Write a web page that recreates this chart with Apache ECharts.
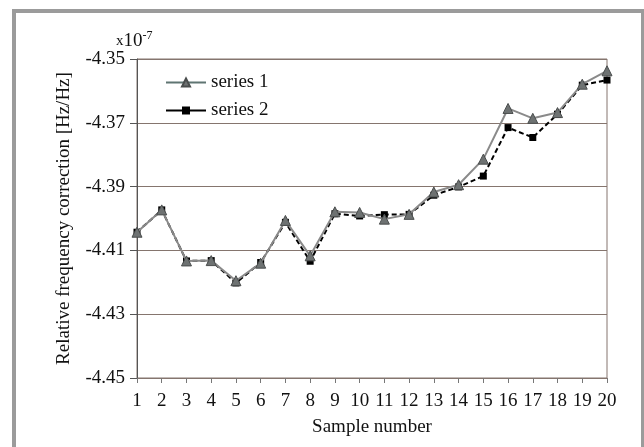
<!DOCTYPE html>
<html>
<head>
<meta charset="utf-8">
<script src="https://cdn.jsdelivr.net/npm/echarts@6/dist/echarts.min.js"></script>
<style>
  html, body { margin: 0; padding: 0; background: #fff; }
  #chart { width: 644px; height: 447px; }
</style>
</head>
<body>
<div id="chart"></div>
<script>
var samples = ['1', '2', '3', '4', '5', '6', '7', '8', '9', '10',
    '11', '12', '13', '14', '15', '16', '17', '18', '19', '20'];

// values in units of 1e-7 Hz/Hz
var series1 = [-4.4043, -4.3973, -4.4133, -4.4132, -4.4195, -4.4140, -4.4006, -4.4117, -4.3979, -4.3981,
    -4.4002, -4.3987, -4.3917, -4.3894, -4.3814, -4.3655, -4.3686, -4.3668, -4.3579, -4.3537];
var series2 = [-4.4043, -4.3973, -4.4133, -4.4132, -4.4202, -4.4138, -4.4012, -4.4134, -4.3985, -4.3992,
    -4.3988, -4.3987, -4.3927, -4.3901, -4.3867, -4.3715, -4.3746, -4.3673, -4.3582, -4.3566];

var yMin = -4.45, yMax = -4.35, yStep = 0.02;

var font = '"Liberation Serif", "DejaVu Serif", serif';
var gridColor = '#85756e';

var myChart = echarts.init(document.getElementById('chart'));

var option = {
    animation: false,
    backgroundColor: '#fff',
    textStyle: {fontFamily: font, color: '#111'},
    grid: {
        left: 137, right: 37, top: 59, bottom: 69,
        show: true, borderColor: gridColor, borderWidth: 1
    },
    legend: {
        orient: 'vertical',
        left: 160, top: 68,
        itemWidth: 40, itemHeight: 10, itemGap: 9,
        textStyle: {fontFamily: font, fontSize: 19, color: '#111'},
        data: [
            {name: 'series 1', lineStyle: {color: '#5f7572', width: 2, type: 'solid'}},
            {name: 'series 2', lineStyle: {color: '#000', width: 2, type: 'solid'}}
        ]
    },
    xAxis: {
        type: 'category',
        data: samples,
        boundaryGap: false,
        name: 'Sample number',
        nameLocation: 'middle',
        nameGap: 40,
        nameTextStyle: {fontFamily: font, fontSize: 19, color: '#111'},
        axisLine: {lineStyle: {color: gridColor, width: 1}},
        axisTick: {show: true, length: 5, lineStyle: {color: '#777'}},
        axisLabel: {fontFamily: font, fontSize: 19, color: '#111', margin: 14, interval: 0},
        splitLine: {show: false}
    },
    yAxis: {
        type: 'value',
        min: yMin, max: yMax, interval: yStep,
        name: 'Relative frequency correction [Hz/Hz]',
        nameLocation: 'middle',
        nameGap: 63,
        nameTextStyle: {fontFamily: font, fontSize: 19, color: '#111'},
        axisLine: {show: true, lineStyle: {color: '#555', width: 1}},
        axisTick: {show: true, length: 7, lineStyle: {color: '#555'}},
        axisLabel: {
            fontFamily: font, fontSize: 19, color: '#111', margin: 12,
            formatter: function (v) { return v.toFixed(2); }
        },
        splitLine: {show: true, lineStyle: {color: gridColor, width: 1}}
    },
    graphic: [
        {
            type: 'rect', silent: true,
            shape: {x: 14, y: 11, width: 629, height: 460},
            style: {fill: null, stroke: '#9b9b9b', lineWidth: 4}
        },
        {
            type: 'text', silent: true,
            left: 116, top: 30,
            style: {
                text: '{a|x}{b|10}{c|-7}',
                rich: {
                    a: {fontFamily: font, fontSize: 15, fill: '#111'},
                    b: {fontFamily: font, fontSize: 19, fill: '#111'},
                    c: {fontFamily: font, fontSize: 12, fill: '#111', verticalAlign: 'top', padding: [0, 0, 11, 0]}
                }
            }
        }
    ],
    series: [
        {
            name: 'series 1',
            type: 'line',
            z: 3,
            data: series1,
            symbol: 'triangle',
            symbolSize: 10,
            lineStyle: {color: '#8a8a8a', width: 2},
            itemStyle: {color: '#6e7272', borderColor: '#4a4d4d', borderWidth: 1}
        },
        {
            name: 'series 2',
            type: 'line',
            z: 2,
            data: series2,
            symbol: 'rect',
            symbolSize: 7,
            lineStyle: {color: '#000', width: 2, type: [5, 3]},
            itemStyle: {color: '#000'}
        }
    ]
};

myChart.setOption(option);
</script>
</body>
</html>
